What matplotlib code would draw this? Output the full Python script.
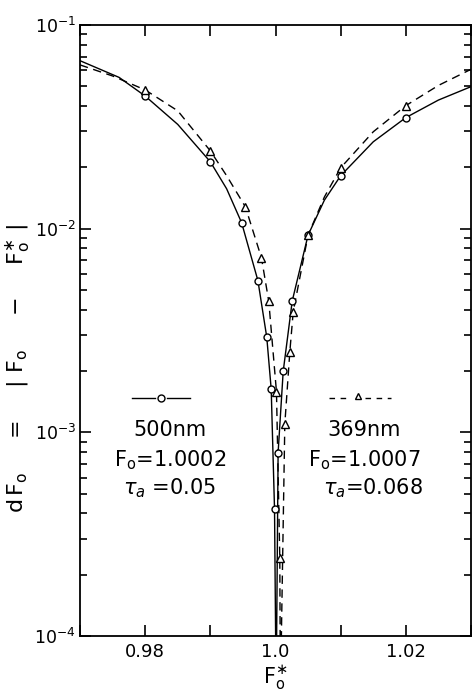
import matplotlib
matplotlib.use("Agg")
import matplotlib.pyplot as plt
from matplotlib.ticker import FixedLocator, LogLocator, NullFormatter, FixedFormatter

# ---- data ----
# 500 nm (solid line, circles)
curve500_x = [0.970, 0.976, 0.980, 0.985, 0.990, 0.9925, 0.9948, 0.9973, 0.99866, 0.99934,
              0.99985, 1.0001, 1.0004, 1.00118, 1.00257, 1.005, 1.0075, 1.010, 1.015, 1.020,
              1.025, 1.030]
curve500_y = [0.0668, 0.0553, 0.0448, 0.0325, 0.0213, 0.0157, 0.0107, 0.00556, 0.00293, 0.00163,
              0.00042, 0.00005, 0.000795, 0.00199, 0.00442, 0.0093, 0.0138, 0.0182, 0.0267, 0.0351,
              0.0428, 0.0498]
pts500_x = [0.980, 0.990, 0.9948, 0.9973, 0.99866, 0.99934, 0.99985, 1.0004, 1.00118, 1.00257,
            1.005, 1.010, 1.020]
pts500_y = [0.0448, 0.0213, 0.0107, 0.00556, 0.00293, 0.00163, 0.00042, 0.000795, 0.00199, 0.00442,
            0.0093, 0.0182, 0.0351]

# 369 nm (dashed line, triangles)
curve369_x = [0.970, 0.975, 0.980, 0.985, 0.990, 0.9925, 0.99538, 0.99785, 0.99897, 1.00015,
              1.00066, 1.00075, 1.00143, 1.0022, 1.00272, 1.005, 1.0075, 1.010, 1.015, 1.020,
              1.025, 1.030]
curve369_y = [0.0637, 0.0562, 0.0480, 0.0379, 0.0241, 0.0182, 0.0128, 0.00718, 0.00439, 0.00158,
              0.000241, 0.00005, 0.0011, 0.00249, 0.00391, 0.0093, 0.0143, 0.0199, 0.0299, 0.0402,
              0.0505, 0.0606]
pts369_x = [0.980, 0.990, 0.99538, 0.99785, 0.99897, 1.00015, 1.00066, 1.00143, 1.0022, 1.00272,
            1.005, 1.010, 1.020]
pts369_y = [0.0480, 0.0241, 0.0128, 0.00718, 0.00439, 0.00158, 0.000241, 0.0011, 0.00249, 0.00391,
            0.0093, 0.0199, 0.0402]

xtick_pos = [0.97, 0.98, 0.99, 1.00, 1.01, 1.02, 1.03]
xtick_lab = ["", "0.98", "", "1.0", "", "1.02", ""]
ytick_pos = [1e-4, 1e-3, 1e-2, 1e-1]
ytick_lab = [r"$\mathregular{10^{-4}}$", r"$\mathregular{10^{-3}}$",
             r"$\mathregular{10^{-2}}$", r"$\mathregular{10^{-1}}$"]

# ---- figure ----
plt.rcParams["font.family"] = ["DejaVu Sans"]
fig = plt.figure(figsize=(4.72, 6.94), dpi=100)
ax = fig.add_axes([80/472, 58/694, (471-80)/472, (636-25)/694])
ax.set_yscale("log")
ax.set_xlim(0.97, 1.03)
ax.set_ylim(1e-4, 1e-1)

ax.plot(curve500_x, curve500_y, color="black", lw=1.0, ls="-")
ax.plot(curve369_x, curve369_y, color="black", lw=1.0, ls=(0, (6, 4)))
ax.plot(pts500_x, pts500_y, ls="none", marker="o", ms=5, mfc="white", mec="black", mew=1.0)
ax.plot(pts369_x, pts369_y, ls="none", marker="^", ms=5.5, mfc="white", mec="black", mew=1.0)

ax.xaxis.set_major_locator(FixedLocator(xtick_pos))
ax.xaxis.set_major_formatter(FixedFormatter(xtick_lab))
ax.yaxis.set_major_locator(FixedLocator(ytick_pos))
ax.yaxis.set_major_formatter(FixedFormatter(ytick_lab))
ax.yaxis.set_minor_locator(LogLocator(base=10, subs=range(2, 10)))
ax.yaxis.set_minor_formatter(NullFormatter())
ax.tick_params(which="both", direction="in", top=True, right=True, labelsize=13, width=1.2)
ax.tick_params(which="major", length=8, pad=5)
ax.tick_params(axis="y", which="major", labelsize=12.5, pad=3)
ax.tick_params(which="minor", length=5)
for s in ax.spines.values():
    s.set_linewidth(1.3)

ax.set_xlabel(r"$\mathregular{F_o^{\ast}}$", fontsize=15, labelpad=2)
fig.text(18/472, 1 - 368/694,
         r"$\mathregular{d\,F_o\quad\ =\quad\ |\ F_o\quad\ -\quad\ F_o^{\ast}\ |}$",
         fontsize=16, rotation=90, ha="center", va="center")

# legend-like annotations
tr = ax.transAxes
ax.plot([0.133, 0.192], [0.390, 0.390], color="black", lw=1.0, transform=tr)
ax.plot([0.222, 0.281], [0.390, 0.390], color="black", lw=1.0, transform=tr)
ax.plot([0.207], [0.390], ls="none", marker="o", ms=5, mfc="white", mec="black", transform=tr)
ax.plot([0.636, 0.692], [0.390, 0.390], color="black", lw=1.0, ls=(0, (4, 4)), transform=tr)
ax.plot([0.728, 0.795], [0.390, 0.390], color="black", lw=1.0, ls=(0, (4, 4)), transform=tr)
ax.plot([0.710], [0.392], ls="none", marker="^", ms=5, mfc="white", mec="black", transform=tr)

fs = 15
ax.text(0.230, 0.337, "500nm", transform=tr, ha="center", va="center", fontsize=fs)
ax.text(0.231, 0.288, r"$\mathregular{F_o}$=1.0002", transform=tr, ha="center", va="center", fontsize=fs)
ax.text(0.229, 0.242, r"$\tau_a$ =0.05", transform=tr, ha="center", va="center", fontsize=fs)
ax.text(0.726, 0.337, "369nm", transform=tr, ha="center", va="center", fontsize=fs)
ax.text(0.728, 0.288, r"$\mathregular{F_o}$=1.0007", transform=tr, ha="center", va="center", fontsize=fs)
ax.text(0.749, 0.242, r"$\tau_a$=0.068", transform=tr, ha="center", va="center", fontsize=fs)

fig.savefig("out.png", dpi=100)
